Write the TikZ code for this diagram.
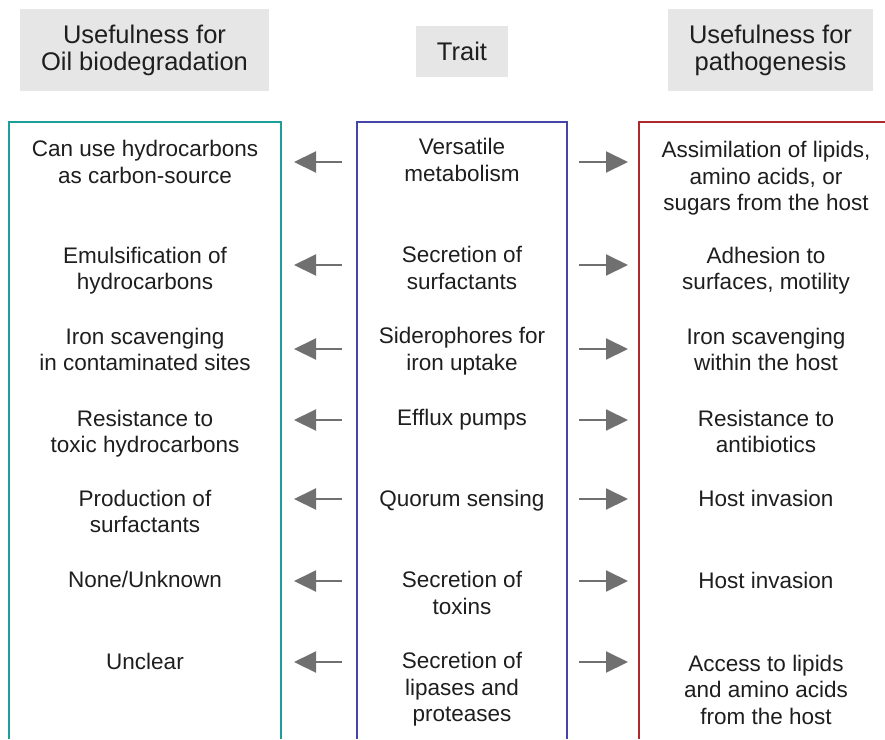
\documentclass[tikz,border=0pt]{standalone}
\usepackage{fontspec}
\setmainfont{Liberation Sans}
\usetikzlibrary{arrows.meta}
\definecolor{hdrgray}{HTML}{E6E6E6}
\definecolor{oilteal}{HTML}{1E9E98}
\definecolor{traitblue}{HTML}{4545A8}
\definecolor{pathred}{HTML}{AE2A2A}
\definecolor{arrowgray}{HTML}{707070}
\definecolor{ink}{HTML}{1E1E1E}
\begin{document}
\begin{tikzpicture}[x=1pt,y=-1pt,
  header/.style={fill=hdrgray, inner sep=0pt, align=center, text=ink,
    font=\fontsize{25.5}{27}\selectfont},
  cell/.style={anchor=north, inner sep=0pt, align=center, text=ink,
    font=\fontsize{22.5}{26.5}\selectfont},
  colframe/.style={line width=1.6pt},
  link/.style={draw=arrowgray, line width=2pt,
    -{Triangle[length=22pt,width=21pt]}}]
\useasboundingbox (0,0) rectangle (885,739);

% column headings
\node[header, minimum width=249pt, minimum height=82pt] (hoil) at (144.5,50)
  {Usefulness for\\Oil biodegradation};
\node[header, minimum width=92pt, minimum height=51pt] (htrait) at (462,51.5)
  {Trait};
\node[header, minimum width=205pt, minimum height=82pt] (hpath) at (770.5,50)
  {Usefulness for\\pathogenesis};

% column frames, open at the bottom
\draw[colframe, oilteal] (9,739) -- (9,122) -- (281,122) -- (281,739);
\draw[colframe, traitblue] (357,739) -- (357,122) -- (567,122) -- (567,739);
\draw[colframe, pathred] (639,739) -- (639,122) -- (885,122);

% oil biodegradation column
\node[cell] (o1) at (145,138)   {\strut Can use hydrocarbons\\as carbon-source};
\node[cell] (o2) at (145,244.5) {\strut Emulsification of\\hydrocarbons};
\node[cell] (o3) at (145,325.5) {\strut Iron scavenging\\in contaminated sites};
\node[cell] (o4) at (145,407.5) {\strut Resistance to\\toxic hydrocarbons};
\node[cell] (o5) at (145,487.5) {\strut Production of\\surfactants};
\node[cell] (o6) at (145,568.5) {\strut None/Unknown};
\node[cell] (o7) at (145,650.5) {\strut Unclear};

% trait column
\node[cell] (t1) at (462,136)   {\strut Versatile\\metabolism};
\node[cell] (t2) at (462,244)   {\strut Secretion of\\surfactants};
\node[cell] (t3) at (462,325)   {\strut Siderophores for\\iron uptake};
\node[cell] (t4) at (462,407)   {\strut Efflux pumps};
\node[cell] (t5) at (462,487.5) {\strut Quorum sensing};
\node[cell] (t6) at (462,569)   {\strut Secretion of\\toxins};
\node[cell] (t7) at (462,650)   {\strut Secretion of\\lipases and\\proteases};

% pathogenesis column
\node[cell] (p1) at (766,139)   {\strut Assimilation of lipids,\\amino acids, or\\sugars from the host};
\node[cell] (p2) at (766,244.5) {\strut Adhesion to\\surfaces, motility};
\node[cell] (p3) at (766,325.5) {\strut Iron scavenging\\within the host};
\node[cell] (p4) at (766,407.5) {\strut Resistance to\\antibiotics};
\node[cell] (p5) at (766,487.5) {\strut Host invasion};
\node[cell] (p6) at (766,570)   {\strut Host invasion};
\node[cell] (p7) at (766,652.5) {\strut Access to lipids\\and amino acids\\from the host};

% arrows from each trait towards both uses
\foreach \i/\y in {1/162,2/265,3/349,4/420,5/499,6/581,7/662}{
  \coordinate (lt\i) at (342,\y);
  \coordinate (lh\i) at (294,\y);
  \coordinate (rt\i) at (579,\y);
  \coordinate (rh\i) at (628,\y);
  \draw[link] (lt\i) -- (lh\i);
  \draw[link] (rt\i) -- (rh\i);
}
\end{tikzpicture}
\end{document}
